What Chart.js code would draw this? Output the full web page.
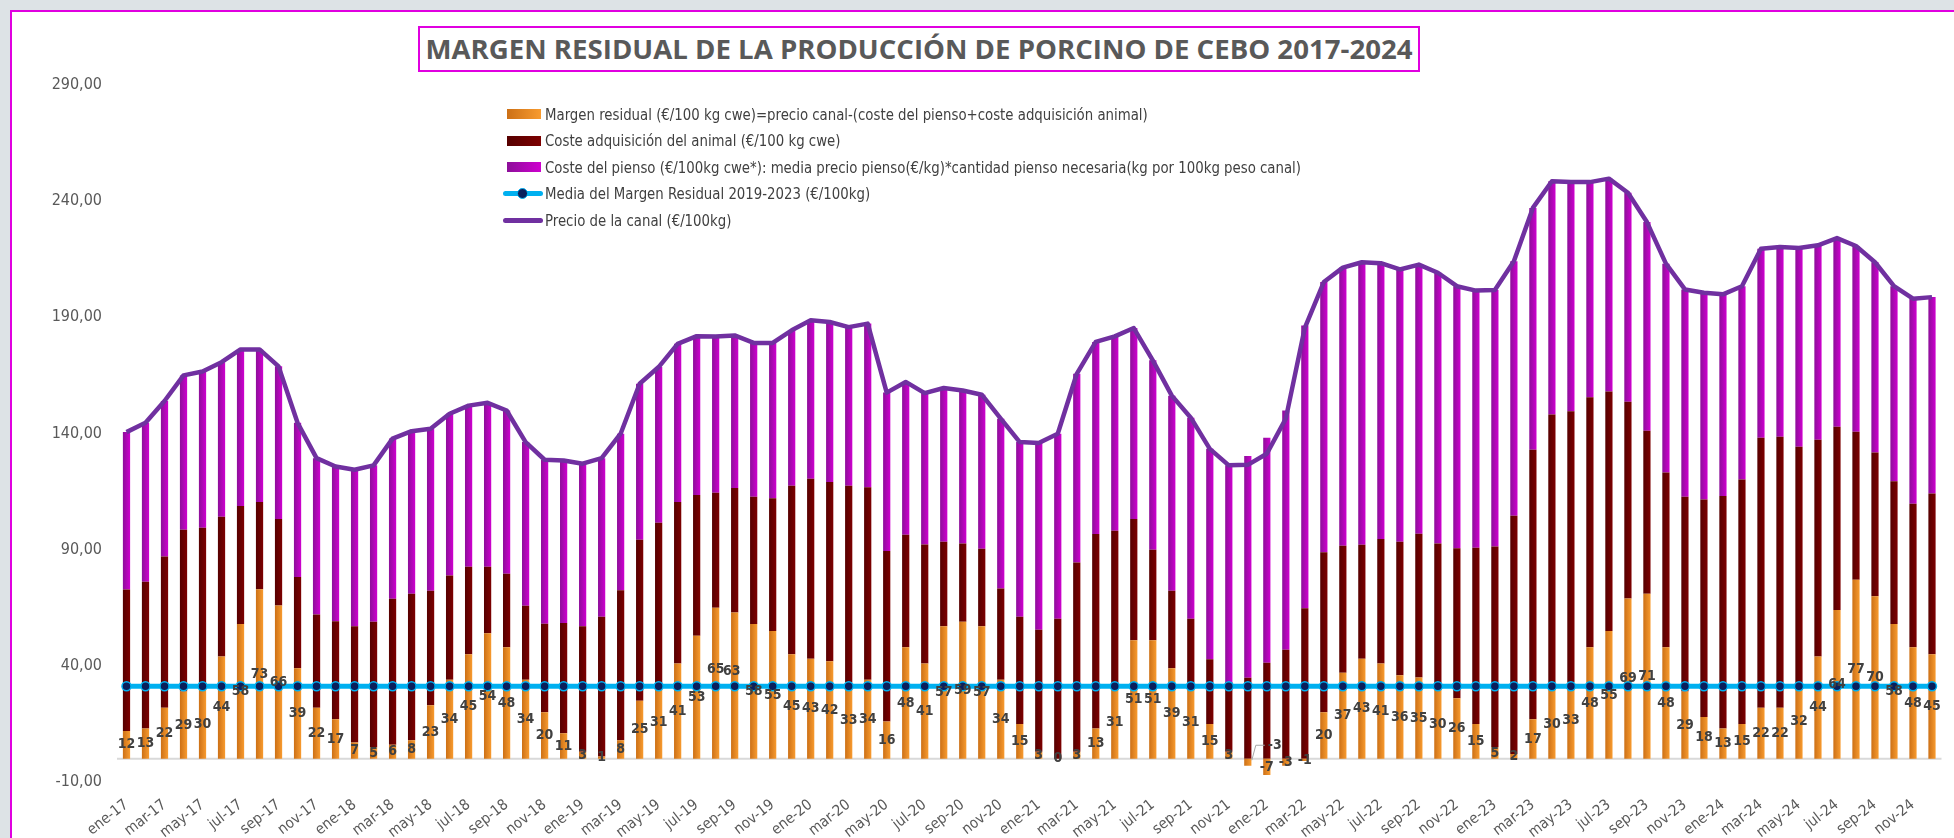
<!DOCTYPE html>
<html lang="es">
<head>
<meta charset="utf-8">
<title>Margen residual porcino de cebo 2017-2024</title>
<script src="https://cdn.jsdelivr.net/npm/chart.js@4.4.1/dist/chart.umd.min.js"></script>
<style>
  html, body { margin: 0; padding: 0; }
  body { width: 1954px; height: 838px; background: #dde3e6; overflow: hidden; position: relative;
         font-family: "Liberation Sans Narrow", "DejaVu Sans Condensed", "Open Sans", sans-serif; }
  #marco { position: absolute; left: 10px; top: 10px; width: 1960px; height: 840px;
           background: #fff; border: 2px solid #e000e0; box-sizing: border-box; }
  #lienzo { position: absolute; left: 0; top: 0; width: 1954px; height: 838px; }
  #titulo { position: absolute; left: 418px; top: 26px; width: 1002px; height: 46px; box-sizing: border-box;
            border: 2px solid #e000e0; background: #fff; white-space: nowrap; }
  #titulo span { position: absolute; left: 50%; top: 0; font-family: "Open Sans", sans-serif; font-weight: bold;
                 font-size: 26px; color: #595959; line-height: 42px; transform-origin: center center;
                 transform: translateX(-50%); }
  #leyenda { position: absolute; left: 503px; top: 101px; }
  .fila { position: absolute; left: 0; height: 26px; display: flex; align-items: center; white-space: nowrap; }
  .muestra { width: 40px; height: 26px; position: relative; flex: none; }
  .muestra .barra { position: absolute; left: 4px; top: 8px; width: 34px; height: 10px; }
  .muestra .linea { position: absolute; left: 0; top: 10.5px; width: 40px; height: 5px; border-radius: 3px; }
  .muestra .punto { position: absolute; left: 14px; top: 7px; width: 9px; height: 9px; border-radius: 50%;
                    border: 1.5px solid #00b0f0; }
  .texto { display: inline-block; font-size: 16px; color: #404040; margin-left: 2px; transform-origin: left center; }
</style>
</head>
<body>
<div id="marco"></div>
<div id="lienzo"><canvas id="graficoMargen"></canvas></div>
<div id="titulo"><span>MARGEN RESIDUAL DE LA PRODUCCIÓN DE PORCINO DE CEBO 2017-2024</span></div>
<div id="leyenda"></div>
<script>
const meses = ['ene', 'feb', 'mar', 'abr', 'may', 'jun', 'jul', 'ago', 'sep', 'oct', 'nov', 'dic'];
const anios = ['17', '18', '19', '20', '21', '22', '23', '24'];
const categorias = anios.flatMap((a) => meses.map((m) => m + '-' + a));

// €/100 kg canal
const margenResidual = [
  12, 13, 22, 29, 30, 44, 58, 73, 66, 39, 22, 17,
  7, 5, 6, 8, 23, 34, 45, 54, 48, 34, 20, 11,
  3, 1, 8, 25, 31, 41, 53, 65, 63, 58, 55, 45,
  43, 42, 33, 34, 16, 48, 41, 57, 59, 57, 34, 15,
  3, 0, 3, 13, 31, 51, 51, 39, 31, 15, 3, -3,
  -7, -3, -1, 20, 37, 43, 41, 36, 35, 30, 26, 15,
  5, 2, 17, 30, 33, 48, 55, 69, 71, 48, 29, 18,
  13, 15, 22, 22, 32, 44, 64, 77, 70, 58, 48, 45,
];

const costeAnimal = [
  60.9, 63.2, 65.1, 69.6, 69.4, 60.2, 50.8, 37.5, 37.2, 39.2, 40.1, 42.2,
  50.0, 54.0, 62.9, 63.0, 49.3, 44.9, 37.7, 28.7, 31.6, 31.9, 38.1, 47.4,
  54.0, 60.1, 64.5, 69.3, 70.6, 69.5, 60.5, 49.5, 53.5, 54.8, 57.1, 72.5,
  77.5, 77.1, 84.5, 82.9, 73.4, 48.4, 51.2, 36.4, 33.7, 33.4, 39.3, 46.1,
  52.5, 60.3, 81.5, 83.7, 67.1, 52.2, 39.0, 33.3, 29.3, 27.8, 30.0, 34.9,
  41.3, 46.9, 64.8, 68.9, 54.7, 49.1, 53.6, 57.4, 61.9, 62.7, 64.6, 75.8,
  86.4, 102.6, 116.0, 118.2, 116.6, 107.6, 103.1, 84.7, 70.2, 75.2, 83.8, 93.6,
  100.1, 105.2, 116.2, 116.6, 102.3, 93.3, 78.9, 63.8, 61.8, 61.5, 61.8, 69.2,
];

const costePienso = [
  67.7, 68.4, 66.9, 66.4, 67.3, 66.5, 67.4, 65.7, 65.7, 66.4, 67.3, 66.6,
  67.4, 67.3, 68.9, 70.0, 69.7, 69.6, 69.3, 70.5, 70.3, 70.4, 70.6, 70.0,
  70.0, 68.3, 67.4, 67.1, 67.0, 68.1, 68.4, 67.2, 65.7, 66.2, 66.9, 66.9,
  68.2, 68.9, 68.3, 70.4, 68.2, 65.8, 65.2, 66.2, 65.8, 66.3, 73.1, 75.2,
  80.4, 79.6, 81.2, 82.7, 83.7, 82.2, 81.5, 84.0, 86.5, 90.6, 93.3, 95.4,
  96.9, 103.0, 121.7, 116.3, 119.7, 121.6, 118.7, 117.2, 115.8, 116.5, 112.8, 110.7,
  110.4, 109.5, 104.1, 100.4, 98.6, 92.6, 91.6, 89.9, 89.8, 89.9, 89.2, 89.0,
  86.8, 83.2, 81.3, 81.7, 85.5, 83.7, 81.2, 79.9, 81.9, 83.9, 88.2, 84.5,
];

const precioCanal = [
  140.6, 144.6, 154.0, 165.0, 166.7, 170.7, 176.2, 176.2, 168.9, 144.6, 129.4, 125.8,
  124.4, 126.3, 137.8, 141.0, 142.0, 148.5, 152.0, 153.2, 149.9, 136.3, 128.7, 128.4,
  127.0, 129.4, 139.9, 161.4, 168.6, 178.6, 181.9, 181.7, 182.2, 179.0, 179.0, 184.4,
  188.7, 188.0, 185.8, 187.3, 157.6, 162.2, 157.4, 159.6, 158.5, 156.7, 146.4, 136.3,
  135.9, 139.9, 165.7, 179.4, 181.8, 185.4, 171.5, 156.3, 146.8, 133.4, 126.3, 126.5,
  131.3, 146.4, 185.5, 205.2, 211.4, 213.7, 213.3, 210.6, 212.7, 209.2, 203.4, 201.5,
  201.8, 214.1, 237.1, 248.6, 248.2, 248.2, 249.7, 243.6, 231.0, 213.1, 202.0, 200.6,
  199.9, 203.4, 219.5, 220.3, 219.8, 221.0, 224.1, 220.7, 213.7, 203.4, 198.0, 198.7,
];

const mediaMargen = 31.2;
const mediaMargenSerie = categorias.map(() => mediaMargen);

const fuente = '"Liberation Sans Narrow", "DejaVu Sans Condensed", "Open Sans", sans-serif';
const anchoBarra = 0.38;

// etiquetas que en el original están movidas a mano
const desplazamientos = {
  31: { dx: 0, dy: -14 },
  32: { dx: -3, dy: -14 },
  59: { dx: 27, dy: -17, guia: true },
};

function degradadoBarra(oscuro, claro) {
  return (c) => {
    const chart = c.chart;
    if (c.type !== 'data' || !chart.chartArea || !chart.scales.x) return claro;
    const escala = chart.scales.x;
    const x = escala.getPixelForValue(c.dataIndex);
    const medio = (escala.getPixelForValue(1) - escala.getPixelForValue(0)) * anchoBarra / 2;
    const g = chart.ctx.createLinearGradient(x - medio, 0, x + medio, 0);
    g.addColorStop(0, oscuro);
    g.addColorStop(1, claro);
    return g;
  };
}

const lineaCero = {
  id: 'lineaCero',
  beforeDatasetsDraw(chart) {
    const { ctx, chartArea, scales } = chart;
    const y = scales.y.getPixelForValue(0);
    ctx.save();
    ctx.strokeStyle = '#d9d9d9';
    ctx.lineWidth = 2;
    ctx.beginPath();
    ctx.moveTo(chartArea.left, y);
    ctx.lineTo(chartArea.right, y);
    ctx.stroke();
    ctx.restore();
  },
};

const etiquetasMargen = {
  id: 'etiquetasMargen',
  afterDatasetsDraw(chart) {
    const ctx = chart.ctx;
    const meta = chart.getDatasetMeta(0);
    ctx.save();
    ctx.font = 'bold 14px ' + fuente;
    ctx.fillStyle = '#404040';
    ctx.textAlign = 'center';
    ctx.textBaseline = 'middle';
    meta.data.forEach((barra, i) => {
      let x = barra.x;
      let y = (barra.y + barra.base) / 2;
      const d = desplazamientos[i];
      if (d) {
        if (d.guia) {
          ctx.strokeStyle = '#a6a6a6';
          ctx.lineWidth = 1;
          ctx.beginPath();
          ctx.moveTo(x + 4, y - 2);
          ctx.lineTo(x + 8, y + d.dy);
          ctx.lineTo(x + d.dx - 10, y + d.dy);
          ctx.stroke();
        }
        x += d.dx;
        y += d.dy;
      }
      ctx.fillText(String(margenResidual[i]), x, y);
    });
    ctx.restore();
  },
};

function buildChart() {
  const ctx = document.getElementById('graficoMargen');
  return new Chart(ctx, {
    type: 'bar',
    data: {
      labels: categorias,
      datasets: [
        {
          label: 'Margen residual (€/100 kg cwe)=precio canal-(coste del pienso+coste adquisición animal)',
          data: margenResidual,
          backgroundColor: degradadoBarra('#cc7016', '#f89b2f'),
          stack: 'costes',
          order: 10,
          barPercentage: anchoBarra,
          categoryPercentage: 1,
          swatch: ['#cc7016', '#f89b2f'],
        },
        {
          label: 'Coste adquisición del animal (€/100 kg cwe)',
          data: costeAnimal,
          backgroundColor: degradadoBarra('#560000', '#7d0000'),
          stack: 'costes',
          order: 10,
          barPercentage: anchoBarra,
          categoryPercentage: 1,
          swatch: ['#560000', '#7d0000'],
        },
        {
          label: 'Coste del pienso (€/100kg cwe*): media precio pienso(€/kg)*cantidad pienso necesaria(kg por 100kg peso canal)',
          data: costePienso,
          backgroundColor: degradadoBarra('#8c0f99', '#cf00cf'),
          stack: 'costes',
          order: 10,
          barPercentage: anchoBarra,
          categoryPercentage: 1,
          swatch: ['#8c0f99', '#cf00cf'],
        },
        {
          type: 'line',
          label: 'Media del Margen Residual 2019-2023 (€/100kg)',
          data: mediaMargenSerie,
          borderColor: '#00b0f0',
          borderWidth: 5,
          pointRadius: 4.5,
          pointBackgroundColor: '#0a1f5c',
          pointBorderColor: '#00b0f0',
          pointBorderWidth: 1.5,
          stack: 'media',
          order: 2,
        },
        {
          type: 'line',
          label: 'Precio de la canal (€/100kg)',
          data: precioCanal,
          borderColor: '#7030a0',
          borderWidth: 4.5,
          pointRadius: 0,
          borderJoinStyle: 'round',
          stack: 'precio',
          order: 1,
        },
      ],
    },
    options: {
      responsive: true,
      maintainAspectRatio: false,
      animation: false,
      layout: { padding: { left: 10, right: 12.5, top: 85, bottom: 0 } },
      plugins: {
        legend: { display: false },
        tooltip: { enabled: false },
      },
      scales: {
        x: {
          stacked: true,
          grid: { display: false },
          border: { display: false },
          ticks: {
            autoSkip: false,
            minRotation: 38,
            maxRotation: 38,
            padding: 6,
            color: '#595959',
            font: { family: fuente, size: 15 },
            callback(value, index) {
              return index % 2 === 0 ? this.getLabelForValue(value) : '';
            },
          },
          afterFit(scale) { scale.height = 56; },
        },
        y: {
          stacked: true,
          min: -10,
          max: 290,
          grid: { display: false, drawTicks: false },
          border: { display: false },
          ticks: {
            stepSize: 50,
            padding: 15,
            color: '#595959',
            font: { family: fuente, size: 16 },
            callback: (v) => v.toFixed(2).replace('.', ','),
          },
          afterFit(scale) { scale.width = 107; },
        },
      },
    },
    plugins: [lineaCero, etiquetasMargen],
  });
}

function buildLegend(chart) {
  const cont = document.getElementById('leyenda');
  const textos = [];
  chart.data.datasets.forEach((ds, i) => {
    const fila = document.createElement('div');
    fila.className = 'fila';
    fila.style.top = (i * 26.6) + 'px';
    const muestra = document.createElement('div');
    muestra.className = 'muestra';
    if (ds.type === 'line') {
      const linea = document.createElement('div');
      linea.className = 'linea';
      linea.style.background = ds.borderColor;
      muestra.appendChild(linea);
      if (ds.pointRadius > 0) {
        const punto = document.createElement('div');
        punto.className = 'punto';
        punto.style.background = ds.pointBackgroundColor;
        muestra.appendChild(punto);
      }
    } else {
      const barra = document.createElement('div');
      barra.className = 'barra';
      barra.style.background = 'linear-gradient(to right, ' + ds.swatch[0] + ', ' + ds.swatch[1] + ')';
      muestra.appendChild(barra);
    }
    const texto = document.createElement('span');
    texto.className = 'texto';
    texto.textContent = ds.label;
    fila.appendChild(muestra);
    fila.appendChild(texto);
    cont.appendChild(fila);
    textos.push(texto);
  });
  // el texto más largo ocupa unos 756 px en el original
  const largo = textos[2].getBoundingClientRect().width;
  const factor = 756 / largo;
  textos.forEach((t) => { t.style.transform = 'scaleX(' + factor.toFixed(4) + ')'; });
}

function fitTitle() {
  const span = document.querySelector('#titulo span');
  const w = span.getBoundingClientRect().width;
  if (w > 0) span.style.transform = 'translateX(-50%) scaleX(' + (987 / w).toFixed(4) + ')';
}

function init() {
  const chart = buildChart();
  buildLegend(chart);
  fitTitle();
}

document.addEventListener('DOMContentLoaded', init);
</script>
</body>
</html>
